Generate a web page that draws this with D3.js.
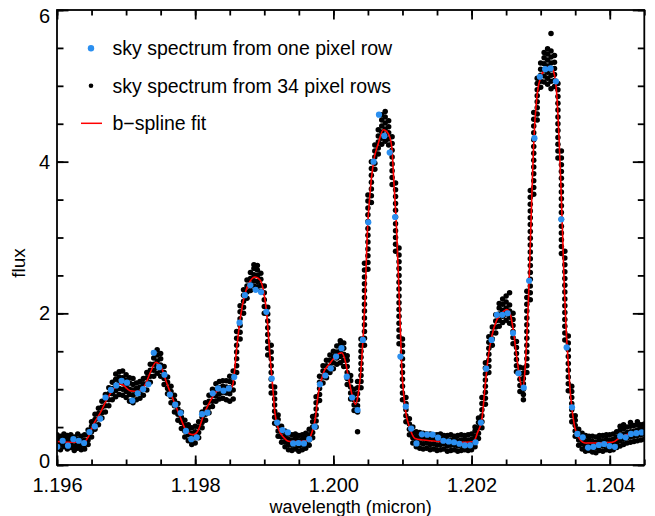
<!DOCTYPE html>
<html><head><meta charset="utf-8">
<script src="https://cdn.jsdelivr.net/npm/d3@7"></script>
<style>
body{margin:0;background:#fff}
svg{display:block}
text{font-family:"Liberation Sans",Arial,Helvetica,sans-serif;fill:#000}
</style>
</head><body>
<svg id="chart" width="655" height="516"></svg>
<script>
// ---------- data ----------
const xDomain = [1.196, 1.2045];
const yDomain = [0, 6];
const xTickValues = [1.196, 1.198, 1.200, 1.202, 1.204];
const xTickLabels = ["1.196", "1.198", "1.200", "1.202", "1.204"];
const yTickValues = [0, 2, 4, 6];
const yTickLabels = ["0", "2", "4", "6"];
const xTitle = "wavelength (micron)";
const yTitle = "flux";
const legendLabels = ["sky spectrum from one pixel row", "sky spectrum from 34 pixel rows", "b\u2212spline fit"];

// b-spline fit
const splineWave = [1.196000,1.196188,1.196381,1.196453,1.196525,1.196622,1.196719,1.196815,1.196922,1.197057,
1.197177,1.197274,1.197346,1.197433,1.197515,1.197588,1.197683,1.197780,1.197853,1.197925,
1.197973,1.198045,1.198117,1.198214,1.198311,1.198407,1.198504,1.198543,1.198601,1.198649,
1.198721,1.198793,1.198866,1.198938,1.198986,1.199035,1.199083,1.199122,1.199155,1.199203,
1.199275,1.199372,1.199469,1.199614,1.199686,1.199734,1.199782,1.199854,1.199951,1.200048,
1.200121,1.200168,1.200216,1.200265,1.200320,1.200361,1.200410,1.200458,1.200491,1.200530,
1.200578,1.200650,1.200723,1.200795,1.200844,1.200877,1.200917,1.200954,1.200989,1.201037,
1.201109,1.201181,1.201302,1.201398,1.201543,1.201760,1.201920,1.202032,1.202083,1.202147,
1.202195,1.202242,1.202291,1.202364,1.202436,1.202509,1.202556,1.202604,1.202653,1.202701,
1.202740,1.202773,1.202798,1.202821,1.202846,1.202870,1.202894,1.202918,1.202951,1.203001,
1.203063,1.203145,1.203193,1.203232,1.203265,1.203294,1.203319,1.203342,1.203367,1.203400,
1.203435,1.203483,1.203545,1.203642,1.203811,1.204040,1.204161,1.204284,1.204431,1.204500];
const splineFlux = [0.31,0.30,0.30,0.37,0.53,0.68,0.86,1.00,1.07,0.98,
0.97,1.055,1.21,1.355,1.275,1.08,0.857,0.64,0.48,0.41,
0.40,0.46,0.645,0.835,0.97,1.00,1.00,1.055,1.54,1.91,
2.26,2.42,2.48,2.44,2.31,2.00,1.43,1.03,0.68,0.48,
0.37,0.31,0.31,0.32,0.42,0.59,0.945,1.21,1.34,1.45,
1.48,1.385,1.165,0.945,0.80,0.945,1.385,2.18,3.06,3.58,
3.98,4.24,4.42,4.37,4.20,3.71,3.06,2.18,1.30,0.77,
0.48,0.35,0.33,0.32,0.31,0.30,0.30,0.31,0.42,0.59,
1.03,1.43,1.69,1.91,2.00,2.05,2.00,1.78,1.43,1.12,
1.01,1.25,1.65,2.13,2.79,3.49,4.11,4.55,4.90,5.12,
5.21,5.25,5.17,4.90,4.33,3.67,3.01,2.35,1.82,1.34,
0.90,0.55,0.37,0.29,0.29,0.30,0.37,0.41,0.44,0.44];

// sky spectrum from one pixel row
const blueWave = [1.196004,1.196082,1.196159,1.196237,1.196314,1.196392,1.196470,1.196547,1.196625,1.196702,
1.196780,1.196858,1.196935,1.197013,1.197090,1.197168,1.197246,1.197323,1.197401,1.197478,
1.197556,1.197634,1.197711,1.197789,1.197866,1.197944,1.198022,1.198099,1.198177,1.198254,
1.198332,1.198410,1.198487,1.198565,1.198642,1.198720,1.198798,1.198875,1.198953,1.199030,
1.199108,1.199186,1.199263,1.199341,1.199418,1.199496,1.199574,1.199651,1.199729,1.199806,
1.199884,1.199962,1.200039,1.200117,1.200194,1.200272,1.200350,1.200427,1.200505,1.200582,
1.200660,1.200738,1.200815,1.200893,1.200970,1.201048,1.201126,1.201203,1.201281,1.201358,
1.201436,1.201514,1.201591,1.201669,1.201746,1.201824,1.201902,1.201979,1.202057,1.202134,
1.202212,1.202290,1.202367,1.202445,1.202522,1.202600,1.202678,1.202755,1.202833,1.202910,
1.202988,1.203066,1.203143,1.203221,1.203298,1.203376,1.203454,1.203531,1.203609,1.203686,
1.203764,1.203842,1.203919,1.203997,1.204074,1.204152,1.204230,1.204307,1.204385,1.204462];
const blueFlux = [0.24,0.32,0.255,0.34,0.32,0.29,0.435,0.51,0.61,0.89,
0.99,1.05,1.11,1.085,0.85,0.945,1.0,1.064,1.48,1.29,
1.19,0.93,0.795,0.685,0.45,0.34,0.365,0.67,0.69,0.945,
1.01,0.98,1.01,1.16,1.877,2.24,2.37,2.31,2.28,2.02,
1.14,0.56,0.46,0.43,0.285,0.29,0.285,0.34,0.505,1.064,
1.18,1.275,1.43,1.54,1.165,0.89,0.725,1.65,3.20,4.0,
4.62,4.34,4.12,3.27,1.43,0.77,0.48,0.285,0.405,0.40,
0.40,0.36,0.32,0.31,0.30,0.28,0.26,0.26,0.30,0.56,
1.27,1.65,1.98,1.98,2.0,1.74,1.21,1.02,2.43,4.31,
5.12,5.22,5.23,5.06,3.24,1.55,0.76,0.41,0.365,0.23,
0.24,0.264,0.277,0.25,0.24,0.38,0.365,0.41,0.42,0.43];

// sky spectrum from 34 pixel rows: [wavelength, fluxes at that wavelength]
const blackCols = [
[1.19600,[0.22,0.29,0.35,0.40]],[1.19605,[0.20,0.27,0.33,0.38]],[1.19610,[0.24,0.30,0.36,0.41]],
[1.19615,[0.21,0.26,0.33,0.39]],[1.19620,[0.23,0.29,0.35,0.40]],[1.19625,[0.19,0.25,0.32,0.37]],
[1.19630,[0.22,0.28,0.34,0.41]],[1.19635,[0.20,0.26,0.31,0.38]],[1.19640,[0.21,0.27,0.33,0.40]],
[1.19645,[0.27,0.33,0.40,0.46]],[1.19650,[0.37,0.44,0.51,0.57]],[1.19655,[0.47,0.53,0.60,0.67]],
[1.19660,[0.53,0.61,0.68,0.75]],[1.19665,[0.62,0.69,0.76,0.84]],[1.19670,[0.70,0.78,0.86,0.93]],
[1.19675,[0.78,0.86,0.94,1.02]],[1.19680,[0.86,0.94,1.01,1.09]],[1.19685,[0.90,0.98,1.05,1.13,1.20]],
[1.19690,[0.93,1.01,1.09,1.16,1.23]],[1.19695,[0.92,1.00,1.08,1.15,1.24]],[1.19700,[0.89,0.97,1.04,1.12,1.19]],
[1.19705,[0.84,0.93,1.00,1.08,1.15]],[1.19710,[0.82,0.92,0.99,1.06,1.14]],[1.19715,[0.86,0.94,1.01,1.08]],
[1.19720,[0.88,0.96,1.03,1.10]],[1.19725,[0.92,1.00,1.07,1.14]],[1.19730,[0.99,1.07,1.15,1.22]],
[1.19735,[1.09,1.17,1.25,1.33]],[1.19740,[1.17,1.25,1.33,1.41,1.48]],[1.19745,[1.21,1.29,1.37,1.45,1.52]],
[1.19750,[1.17,1.25,1.32,1.40,1.47]],[1.19755,[1.06,1.14,1.22,1.30]],[1.19760,[0.94,1.01,1.09,1.16]],
[1.19765,[0.82,0.90,0.97,1.04]],[1.19770,[0.70,0.78,0.85,0.92]],[1.19775,[0.59,0.67,0.74,0.81]],
[1.19780,[0.48,0.56,0.63,0.70]],[1.19785,[0.37,0.45,0.52,0.59]],[1.19790,[0.32,0.40,0.47,0.53]],
[1.19795,[0.27,0.35,0.42,0.49]],[1.19800,[0.29,0.37,0.44,0.51]],[1.19805,[0.36,0.43,0.50,0.57]],
[1.19810,[0.49,0.56,0.63,0.70]],[1.19815,[0.59,0.67,0.74,0.82]],[1.19820,[0.69,0.76,0.84,0.92]],
[1.19825,[0.77,0.84,0.92,1.00]],[1.19830,[0.84,0.91,0.99,1.07]],[1.19835,[0.87,0.94,1.02,1.10]],
[1.19840,[0.88,0.96,1.04,1.11]],[1.19845,[0.86,0.95,1.03,1.11]],[1.19850,[0.84,0.94,1.02,1.10,1.17]],
[1.19855,[0.87,0.99,1.08,1.16,1.24]],[1.19860,[1.22,1.31,1.40,1.49,1.58,1.67,1.76]],
[1.19865,[1.66,1.75,1.84,1.93,2.02,2.10]],[1.19870,[2.00,2.08,2.16,2.24,2.31]],
[1.19875,[2.20,2.28,2.36,2.44]],[1.19880,[2.30,2.38,2.46,2.54]],[1.19885,[2.36,2.43,2.51,2.59,2.64]],
[1.19890,[2.35,2.42,2.50,2.57,2.63]],[1.19895,[2.29,2.37,2.45,2.53]],[1.19900,[2.00,2.09,2.18,2.27,2.36]],
[1.19905,[1.45,1.54,1.63,1.72,1.81,1.90,1.99,2.08]],[1.19910,[0.95,1.04,1.13,1.22,1.31,1.40,1.49,1.58]],
[1.19915,[0.55,0.63,0.71,0.79,0.87,0.95,1.03]],[1.19920,[0.38,0.45,0.52,0.60,0.66]],
[1.19925,[0.30,0.37,0.44,0.51]],[1.19930,[0.24,0.31,0.38,0.45]],[1.19935,[0.20,0.27,0.34,0.41]],
[1.19940,[0.19,0.26,0.33,0.40]],[1.19945,[0.21,0.28,0.35,0.41]],[1.19950,[0.18,0.25,0.32,0.39]],
[1.19955,[0.20,0.27,0.34,0.40]],[1.19960,[0.22,0.29,0.36,0.42]],[1.19965,[0.26,0.33,0.40,0.47]],
[1.19970,[0.36,0.43,0.50,0.57,0.64]],[1.19975,[0.50,0.58,0.66,0.74,0.82,0.90]],
[1.19980,[0.85,0.93,1.01,1.09,1.17]],[1.19985,[1.08,1.16,1.24,1.31]],[1.19990,[1.15,1.23,1.31,1.38]],
[1.19995,[1.22,1.30,1.38,1.45]],[1.20000,[1.27,1.35,1.43,1.50]],[1.20005,[1.33,1.41,1.49,1.57]],
[1.20010,[1.35,1.43,1.51,1.59,1.64]],[1.20015,[1.30,1.38,1.46,1.54,1.61]],
[1.20020,[1.06,1.14,1.22,1.30,1.38,1.44]],[1.20025,[0.87,0.95,1.03,1.11,1.18]],
[1.20030,[0.72,0.79,0.86,0.93,1.00]],[1.20035,[0.44,0.70,0.78,0.86,0.94,1.02,1.10]],
[1.20040,[1.02,1.10,1.18,1.26,1.34,1.42,1.50,1.58,1.66]],
[1.20045,[1.58,1.67,1.76,1.85,1.94,2.03,2.12,2.21,2.30,2.39,2.48,2.57,2.66]],
[1.20050,[2.58,2.67,2.76,2.85,2.94,3.03,3.12,3.21,3.30,3.39,3.48,3.56]],
[1.20055,[3.46,3.55,3.64,3.73,3.82,3.91,4.00]],[1.20060,[3.90,3.98,4.06,4.14,4.22]],
[1.20065,[4.10,4.18,4.26,4.34,4.42]],[1.20070,[4.23,4.31,4.39,4.47,4.55,4.62]],
[1.20075,[4.27,4.35,4.43,4.51,4.59,4.66]],[1.20080,[4.22,4.30,4.38,4.46,4.54]],
[1.20085,[3.70,3.79,3.88,3.97,4.06,4.15,4.24,4.33]],
[1.20090,[2.82,2.91,3.00,3.09,3.18,3.27,3.36,3.45,3.54,3.63,3.72]],
[1.20095,[1.60,1.69,1.78,1.87,1.96,2.05,2.14,2.23,2.32,2.41,2.50,2.59,2.68,2.77,2.86]],
[1.20100,[0.86,0.95,1.04,1.13,1.22,1.31,1.40,1.49,1.58,1.66]],
[1.20105,[0.57,0.65,0.73,0.81,0.89]],[1.20110,[0.40,0.47,0.54,0.61]],[1.20115,[0.29,0.36,0.43,0.50]],
[1.20120,[0.24,0.31,0.38,0.44]],[1.20125,[0.22,0.29,0.36,0.43]],[1.20130,[0.21,0.28,0.35,0.42]],
[1.20135,[0.22,0.29,0.36,0.41]],[1.20140,[0.20,0.27,0.34,0.41]],[1.20145,[0.21,0.28,0.35,0.40]],
[1.20150,[0.19,0.26,0.33,0.40]],[1.20155,[0.20,0.27,0.34,0.41]],[1.20160,[0.21,0.28,0.35,0.39]],
[1.20165,[0.18,0.25,0.32,0.39]],[1.20170,[0.19,0.26,0.33,0.40]],[1.20175,[0.20,0.27,0.34,0.38]],
[1.20180,[0.18,0.25,0.32,0.39]],[1.20185,[0.19,0.26,0.33,0.40]],[1.20190,[0.20,0.27,0.34,0.39]],
[1.20195,[0.19,0.26,0.33,0.40]],[1.20200,[0.20,0.27,0.34,0.41]],[1.20205,[0.24,0.31,0.38,0.45,0.50]],
[1.20210,[0.35,0.42,0.49,0.56,0.62]],[1.20215,[0.49,0.57,0.65,0.73,0.81,0.89]],
[1.20220,[0.80,0.88,0.96,1.04,1.12,1.20,1.28,1.35]],[1.20225,[1.22,1.30,1.38,1.46,1.54,1.62,1.69]],
[1.20230,[1.58,1.66,1.74,1.82]],[1.20235,[1.74,1.82,1.90,1.98]],[1.20240,[1.83,1.91,1.99,2.07,2.13]],
[1.20245,[1.88,1.96,2.04,2.12,2.19]],[1.20250,[1.91,1.99,2.07,2.15,2.23]],[1.20255,[1.87,1.95,2.03,2.11,2.27]],
[1.20260,[1.60,1.68,1.76,1.84,1.92,2.00]],[1.20265,[1.23,1.31,1.39,1.47,1.55,1.63]],
[1.20270,[0.97,1.05,1.13,1.21,1.29]],[1.20275,[0.86,0.93,1.00,1.07,1.14,1.21,1.28]],
[1.20280,[1.22,1.31,1.40,1.49,1.58,1.67,1.76,1.85,1.94,2.03,2.12,2.21,2.29]],
[1.20285,[2.18,2.27,2.36,2.45,2.54,2.63,2.72,2.81,2.90,2.99,3.08,3.17,3.26,3.35,3.44,3.53,3.62]],
[1.20290,[3.57,3.66,3.75,3.84,3.93,4.02,4.11,4.20,4.29,4.38,4.47,4.56,4.65]],
[1.20295,[4.55,4.63,4.71,4.79,4.87,4.95,5.03,5.10]],[1.20300,[4.98,5.06,5.14,5.22,5.30]],
[1.20305,[5.05,5.13,5.21,5.29,5.37,5.44]],[1.20310,[5.02,5.10,5.18,5.26,5.34,5.42,5.49]],
[1.20315,[4.96,5.06,5.14,5.22,5.30,5.38,5.46,5.69]],[1.20320,[4.99,5.07,5.15,5.23,5.31,5.40]],
[1.20325,[4.05,4.14,4.23,4.32,4.41,4.50,4.59,4.68,4.77,4.86,4.95,5.03]],
[1.20330,[2.79,2.88,2.97,3.06,3.15,3.24,3.33,3.42,3.51,3.60,3.69,3.78,3.87,3.96,4.05,4.14]],
[1.20335,[1.65,1.74,1.83,1.92,2.01,2.10,2.19,2.28,2.37,2.46,2.55,2.64,2.73,2.82]],
[1.20340,[0.98,1.07,1.16,1.25,1.34,1.43,1.52,1.61,1.70]],
[1.20345,[0.57,0.65,0.73,0.81,0.89,0.97,1.04]],[1.20350,[0.38,0.45,0.52,0.59,0.65]],
[1.20355,[0.26,0.33,0.40,0.47]],[1.20360,[0.21,0.28,0.35,0.42]],[1.20365,[0.18,0.25,0.32,0.39]],
[1.20370,[0.19,0.26,0.33,0.38]],[1.20375,[0.17,0.24,0.31,0.38]],[1.20380,[0.16,0.23,0.30,0.37]],
[1.20385,[0.19,0.26,0.33,0.39]],[1.20390,[0.18,0.25,0.32,0.39]],[1.20395,[0.20,0.27,0.34,0.40]],
[1.20400,[0.19,0.26,0.33,0.40]],[1.20405,[0.20,0.27,0.34,0.41]],[1.20410,[0.23,0.30,0.37,0.44]],
[1.20415,[0.25,0.32,0.39,0.46,0.51]],[1.20420,[0.27,0.34,0.41,0.48,0.53]],[1.20425,[0.29,0.36,0.43,0.50]],
[1.20430,[0.30,0.37,0.44,0.51,0.56]],[1.20435,[0.31,0.38,0.45,0.52]],[1.20440,[0.32,0.39,0.46,0.53,0.57]],
[1.20445,[0.33,0.40,0.47,0.53]],[1.20450,[0.34,0.41,0.48,0.54]]
];

// ---------- layout ----------
const L = 57, R = 644.3, T = 10, B = 465;
const svg = d3.select("#chart");
const x = d3.scaleLinear().domain(xDomain).range([L, R]);
const y = d3.scaleLinear().domain(yDomain).range([B, T]);

svg.append("defs").append("clipPath").attr("id", "clip")
  .append("rect").attr("x", L).attr("y", T).attr("width", R - L).attr("height", B - T);

const plot = svg.append("g").attr("clip-path", "url(#clip)");

const blackPts = blackCols.flatMap(([w, fs]) => fs.map(f => ({w, f})));
plot.append("g").selectAll("circle").data(blackPts).join("circle")
  .attr("cx", d => x(d.w)).attr("cy", d => y(d.f)).attr("r", 2.75).attr("fill", "#000");

const splineData = splineWave.map((w, i) => ({w, f: splineFlux[i]}));
plot.append("path").datum(splineData)
  .attr("fill", "none").attr("stroke", "#ff0000").attr("stroke-width", 1.6)
  .attr("d", d3.line().x(d => x(d.w)).y(d => y(d.f)).curve(d3.curveMonotoneX));

const blueData = blueWave.map((w, i) => ({w, f: blueFlux[i]}));
plot.append("g").selectAll("circle").data(blueData).join("circle")
  .attr("cx", d => x(d.w)).attr("cy", d => y(d.f)).attr("r", 3.1).attr("fill", "#2b8ff0");

// ---------- axes ----------
const xMinor = d3.range(0, 18).map(i => xDomain[0] + i * 0.0005).filter(v => v <= xDomain[1] + 1e-9);
const yMinor = d3.range(0, 13).map(i => i * 0.5);
const axStyle = g => { g.select(".domain").remove(); g.selectAll("line").attr("stroke", "#000").attr("stroke-width", 1.8); };

svg.append("g").attr("transform", `translate(0,${B})`)
  .call(d3.axisBottom(x).tickValues(xMinor).tickSize(-5.5).tickFormat("")).call(axStyle);
svg.append("g").attr("transform", `translate(0,${B})`)
  .call(d3.axisBottom(x).tickValues(xTickValues).tickSize(-9.5).tickPadding(12.3)
    .tickFormat((d, i) => xTickLabels[i])).call(axStyle)
  .selectAll("text").attr("font-size", 20);
svg.append("g").attr("transform", `translate(0,${T})`)
  .call(d3.axisTop(x).tickValues(xMinor).tickSize(-5.5).tickFormat("")).call(axStyle);
svg.append("g").attr("transform", `translate(0,${T})`)
  .call(d3.axisTop(x).tickValues(xTickValues).tickSize(-9.5).tickFormat("")).call(axStyle);

svg.append("g").attr("transform", `translate(${L},0)`)
  .call(d3.axisLeft(y).tickValues(yMinor).tickSize(-6.5).tickFormat("")).call(axStyle);
const yl = svg.append("g").attr("transform", `translate(${L},0)`)
  .call(d3.axisLeft(y).tickValues(yTickValues).tickSize(-11.5).tickPadding(7)
    .tickFormat((d, i) => yTickLabels[i])).call(axStyle);
yl.selectAll("text").attr("font-size", 20);
yl.selectAll(".tick").filter(d => d === 6).select("text").attr("dy", "0.6em");
yl.selectAll(".tick").filter(d => d === 0).select("text").attr("dy", "0.12em");
svg.append("g").attr("transform", `translate(${R},0)`)
  .call(d3.axisRight(y).tickValues(yMinor).tickSize(-6.5).tickFormat("")).call(axStyle);
svg.append("g").attr("transform", `translate(${R},0)`)
  .call(d3.axisRight(y).tickValues(yTickValues).tickSize(-11.5).tickFormat("")).call(axStyle);

svg.append("rect").attr("x", L).attr("y", T).attr("width", R - L).attr("height", B - T)
  .attr("fill", "none").attr("stroke", "#000").attr("stroke-width", 1.8);

svg.append("text").attr("x", (L + R) / 2).attr("y", 512.5).attr("text-anchor", "middle")
  .attr("font-size", 18).text(xTitle);
svg.append("text").attr("transform", `translate(25,263) rotate(-90)`).attr("text-anchor", "middle")
  .attr("font-size", 19).text(yTitle);

// ---------- legend ----------
const leg = svg.append("g");
const rowY = [48.3, 85.8, 123.3];
leg.append("circle").attr("cx", 91).attr("cy", rowY[0]).attr("r", 3.2).attr("fill", "#2b8ff0");
leg.append("circle").attr("cx", 91).attr("cy", rowY[1]).attr("r", 2.3).attr("fill", "#000");
leg.append("line").attr("x1", 81).attr("x2", 102).attr("y1", rowY[2]).attr("y2", rowY[2])
  .attr("stroke", "#ff0000").attr("stroke-width", 1.5);
leg.selectAll("text").data(legendLabels).join("text")
  .attr("x", 112.5).attr("y", (d, i) => rowY[i]).attr("dy", "0.35em")
  .attr("font-size", 19.5).text(d => d);
</script>
</body></html>
